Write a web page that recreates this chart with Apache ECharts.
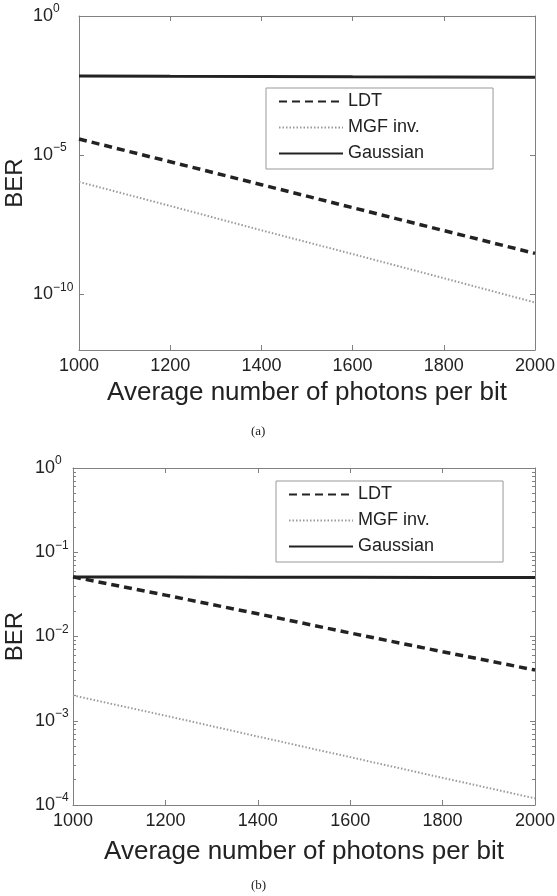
<!DOCTYPE html>
<html>
<head>
<meta charset="utf-8">
<script src="https://cdn.jsdelivr.net/npm/echarts@6/dist/echarts.min.js"></script>
<style>
  html, body { margin: 0; padding: 0; background: #fff; }
  #chart { width: 557px; height: 896px; }
</style>
</head>
<body>
<div id="chart"></div>
<script>
// shared x values (average number of photons per bit)
const photons = [1000, 1200, 1400, 1600, 1800, 2000];

// panel (a)
const ldtA = [3.8e-5, 5.8e-6, 8.7e-7, 1.3e-7, 1.95e-8, 2.95e-9];
const mgfA = [1.1e-6, 1.5e-7, 2.0e-8, 2.8e-9, 3.8e-10, 5.1e-11];
const gaussA = [7.0e-3, 6.8e-3, 6.7e-3, 6.5e-3, 6.4e-3, 6.3e-3];
const yTicksA = [1, 1e-5, 1e-10];

// panel (b)
const ldtB = [0.051, 0.031, 0.0186, 0.011, 0.0066, 0.0040];
const mgfB = [2.0e-3, 1.15e-3, 6.5e-4, 3.7e-4, 2.1e-4, 1.2e-4];
const gaussB = [0.051, 0.0508, 0.0506, 0.0504, 0.0502, 0.050];
const yTicksB = [1, 1e-1, 1e-2, 1e-3, 1e-4];

const seriesNames = ['LDT', 'MGF inv.', 'Gaussian'];

const font = 'Liberation Sans, Arial, Helvetica, sans-serif';
const axisGray = '#808080';
const textColor = '#222';

// minor log ticks 2..9 per decade for panel (b)
const minorTicksB = [];
for (let d = -4; d < 0; d++) {
  for (let k = 2; k <= 9; k++) minorTicksB.push(k * Math.pow(10, d));
}

const pair = (ys) => photons.map((x, i) => [x, ys[i]]);

const powLabel = (v) => {
  const e = Math.round(Math.log10(v));
  return '{b|10}{s|' + (e < 0 ? '\u2212' + (-e) : e) + '}';
};

const labelRich = {
  b: { fontSize: 18, fontFamily: font, color: textColor, lineHeight: 26 },
  s: { fontSize: 12, fontFamily: font, color: textColor, lineHeight: 12, verticalAlign: 'top' }
};

function xAxes(gridIndex, nameGap) {
  const base = {
    type: 'value', gridIndex, min: 1000, max: 2000, interval: 200,
    splitLine: { show: false },
    axisLine: { show: true, lineStyle: { color: axisGray, width: 1 } },
    axisTick: { show: true, inside: true, length: 5, lineStyle: { color: axisGray } }
  };
  return [
    Object.assign({}, base, {
      position: 'bottom',
      axisLabel: { margin: 7, fontSize: 18, fontFamily: font, color: textColor, formatter: (v) => String(v) },
      name: 'Average number of photons per bit',
      nameLocation: 'middle',
      nameGap,
      nameTextStyle: { fontSize: 26, fontFamily: font, color: textColor }
    }),
    Object.assign({}, base, { position: 'top', axisLabel: { show: false } })
  ];
}

function logAxis(gridIndex, min, position, ticks, opts) {
  return Object.assign({
    type: 'log', logBase: 10, gridIndex, min, max: 1, position,
    splitLine: { show: false },
    axisLine: { show: true, lineStyle: { color: axisGray, width: 1 } },
    axisTick: { show: true, inside: true, length: 5, customValues: ticks, lineStyle: { color: axisGray } },
    axisLabel: { show: false }
  }, opts || {});
}

const yName = {
  name: 'BER', nameLocation: 'middle', nameMoveOverlap: false,
  nameTextStyle: { fontSize: 24, fontFamily: font, color: textColor }
};

const minorTick = { show: true, inside: true, length: 3, customValues: minorTicksB, lineStyle: { color: axisGray } };

const yAxes = [
  // panel (a)
  logAxis(0, 1e-12, 'left', yTicksA, Object.assign({}, yName, {
    nameGap: 52,
    axisLabel: { show: true, customValues: yTicksA, align: 'left', margin: 46, formatter: powLabel, rich: labelRich }
  })),
  logAxis(0, 1e-12, 'right', yTicksA),
  // panel (b)
  logAxis(1, 1e-4, 'left', yTicksB, Object.assign({}, yName, {
    nameGap: 46,
    axisLabel: { show: true, customValues: yTicksB, align: 'left', margin: 38, formatter: powLabel, rich: labelRich }
  })),
  logAxis(1, 1e-4, 'left', minorTicksB, { axisLine: { show: false }, axisTick: minorTick }),
  logAxis(1, 1e-4, 'right', yTicksB),
  logAxis(1, 1e-4, 'right', minorTicksB, { axisLine: { show: false }, axisTick: minorTick })
];

const styles = {
  'LDT': { color: '#222', width: 3.5, type: [8, 5] },
  'MGF inv.': { color: '#9a9a9a', width: 2, type: [1.5, 2] },
  'Gaussian': { color: '#222', width: 3, type: 'solid' }
};

function lineSeries(name, data, xIdx, yIdx) {
  return {
    name, type: 'line', data: pair(data),
    xAxisIndex: xIdx, yAxisIndex: yIdx,
    showSymbol: false, symbol: 'none', animation: false,
    itemStyle: { color: styles[name].color },
    lineStyle: styles[name]
  };
}

const legendBase = {
  orient: 'vertical',
  data: seriesNames,
  itemWidth: 64, itemHeight: 14, itemGap: 5,
  itemStyle: { opacity: 0 },
  borderColor: '#999', borderWidth: 1, borderRadius: 0,
  backgroundColor: '#fff',
  textStyle: { fontSize: 18, fontFamily: font, color: textColor, lineHeight: 21 },
  selectedMode: false
};

const chart = echarts.init(document.getElementById('chart'), null, { renderer: 'canvas' });
chart.setOption({
  animation: false,
  backgroundColor: '#fff',
  grid: [
    { left: 79, right: 22, top: 16, height: 334, outerBoundsMode: 'none', containLabel: false },
    { left: 73, right: 22, top: 468, height: 337, outerBoundsMode: 'none', containLabel: false }
  ],
  xAxis: xAxes(0, 30).concat(xAxes(1, 34)),
  yAxis: yAxes,
  legend: [
    Object.assign({}, legendBase, { left: 266, top: 88, padding: [3, 69, 5, 12] }),
    Object.assign({}, legendBase, { left: 276, top: 481, padding: [3, 69, 5, 12] })
  ],
  series: [
    lineSeries('LDT', ldtA, 0, 0),
    lineSeries('MGF inv.', mgfA, 0, 0),
    lineSeries('Gaussian', gaussA, 0, 0),
    lineSeries('LDT', ldtB, 2, 2),
    lineSeries('MGF inv.', mgfB, 2, 2),
    lineSeries('Gaussian', gaussB, 2, 2)
  ],
  graphic: [
    { type: 'text', left: 251, top: 425, style: { text: '(a)', fontSize: 13, fontFamily: 'Liberation Serif, serif', fill: textColor } },
    { type: 'text', left: 251, top: 879, style: { text: '(b)', fontSize: 13, fontFamily: 'Liberation Serif, serif', fill: textColor } }
  ]
});
</script>
</body>
</html>
